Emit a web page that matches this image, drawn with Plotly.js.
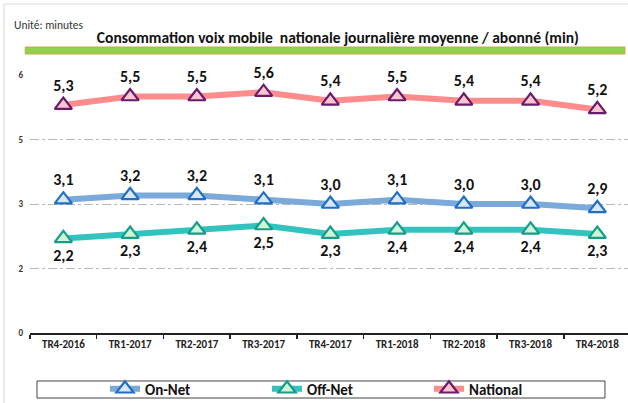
<!DOCTYPE html>
<html>
<head>
<meta charset="utf-8">
<script src="https://cdn.plot.ly/plotly-3.0.1.min.js"></script>
<style>html,body{margin:0;padding:0;background:#fff;}#chart{width:628px;height:403px;}</style>
</head>
<body>
<div id="chart"></div>
<script>
const quarters = ["TR4-2016","TR1-2017","TR2-2017","TR3-2017","TR4-2017","TR1-2018","TR2-2018","TR3-2018","TR4-2018"];
const onNet    = [3.1, 3.2, 3.2, 3.1, 3.0, 3.1, 3.0, 3.0, 2.9];
const offNet   = [2.2, 2.3, 2.4, 2.5, 2.3, 2.4, 2.4, 2.4, 2.3];
const national = [5.3, 5.5, 5.5, 5.6, 5.4, 5.5, 5.4, 5.4, 5.2];
const yTickVals = [0, 1.5, 3, 4.5, 6];
const yTickText = ["0", "2", "3", "5", "6"];

const FONT = "Carlito, Lato, 'Open Sans', sans-serif";
const fmt = v => v.toFixed(1).replace('.', ',');

function series(name, y, lineColor, fill, edge, pos) {
  return {
    type: 'scatter', mode: 'lines+markers+text', name: name,
    x: quarters, y: y,
    text: y.map(fmt), textposition: pos,
    textfont: {family: FONT, size: 16, color: '#111', weight: 'bold'},
    line: {color: lineColor, width: 6},
    marker: {symbol: 'triangle-up', size: 15, color: fill, line: {color: edge, width: 2.2}},
    cliponaxis: false
  };
}

const data = [
  series('On-Net', onNet, '#7BA9DA', '#D8E6F6', '#1F6FC4', 'top center'),
  series('Off-Net', offNet, '#33C3BE', '#CFF5D2', '#159C8C', 'bottom center'),
  series('National', national, '#FF8C8C', '#F8C6CB', '#6A1B6E', 'top center')
];

const layout = {
  width: 628, height: 403,
  margin: {l: 30, r: 0, t: 75, b: 70},
  paper_bgcolor: '#fff', plot_bgcolor: '#fff',
  font: {family: FONT, color: '#222'},
  showlegend: true,
  hovermode: false,
  title: {
    text: 'Consommation voix mobile\u00a0 nationale journalière moyenne / abonné (min)',
    font: {family: FONT, size: 15.5, color: '#111', weight: 'bold'},
    x: 0.538, xanchor: 'center', xref: 'container',
    y: 1 - 38/403, yanchor: 'middle', yref: 'container'
  },
  xaxis: {
    type: 'category', range: [-0.5, 8.46], automargin: false,
    showgrid: false, zeroline: false,
    showline: true, linecolor: '#222', linewidth: 2,
    ticks: 'outside', tickson: 'boundaries', ticklen: 4, tickwidth: 1.5, tickcolor: '#222',
    tickfont: {family: FONT, size: 11, color: '#222', weight: 'bold'},
    fixedrange: true
  },
  yaxis: {
    range: [0, 6], tickvals: yTickVals, ticktext: yTickText, automargin: false,
    showgrid: true, gridcolor: '#b8b8b8', griddash: 'dashdot', gridwidth: 1,
    zeroline: false, showline: false, ticks: '',
    tickfont: {family: FONT, size: 9, color: '#333', weight: 'bold'},
    ticklabelstandoff: 6,
    fixedrange: true
  },
  legend: {
    orientation: 'h', xref: 'container', yref: 'container',
    x: 105/628, xanchor: 'left', y: 1 - 389/403, yanchor: 'middle',
    entrywidth: 117, entrywidthmode: 'pixels',
    font: {family: FONT, size: 15, color: '#111', weight: 'bold'},
    bgcolor: 'rgba(0,0,0,0)', borderwidth: 0
  },
  annotations: [{
    text: 'Unité: minutes', xref: 'paper', yref: 'paper',
    x: -0.03, y: 1 + (75-25)/258, xanchor: 'left', yanchor: 'middle',
    showarrow: false, font: {family: FONT, size: 11.5, color: '#333'}
  }],
  shapes: [
    {type: 'rect', xref: 'paper', yref: 'paper', x0: -0.0435, x1: 1.05, y0: 1 + (75-4)/258, y1: -0.5,
     line: {color: '#d9d9d9', width: 1}, fillcolor: 'rgba(0,0,0,0)', layer: 'below'},
    {type: 'rect', xref: 'paper', yref: 'paper', x0: -0.008, x1: 0.995, y0: 1 + 28/258, y1: 1 + 21/258,
     line: {color: '#C8A84E', width: 1}, fillcolor: '#92D050'},
    {type: 'rect', xref: 'paper', yref: 'paper', x0: 0.0117, x1: 0.9615, y0: -0.186, y1: -0.252,
     line: {color: '#444', width: 1}, fillcolor: 'rgba(0,0,0,0)'}
  ]
};

Plotly.newPlot('chart', data, layout, {displayModeBar: false, staticPlot: true});
</script>
</body>
</html>
